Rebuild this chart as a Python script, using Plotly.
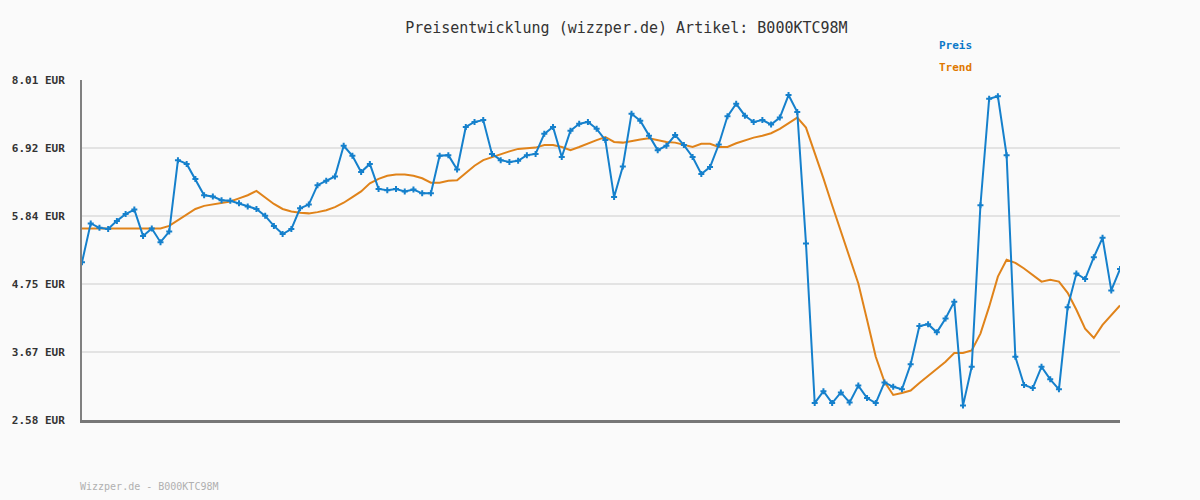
import plotly.graph_objects as go

# price history for article B000KTC98M (EUR), one value per sample
preis = [5.10, 5.72, 5.65, 5.63, 5.76, 5.87, 5.94, 5.52, 5.64, 5.42,
         5.59, 6.73, 6.67, 6.43, 6.17, 6.15, 6.09, 6.08, 6.04, 5.99,
         5.95, 5.84, 5.68, 5.55, 5.63, 5.96, 6.02, 6.33, 6.40, 6.47,
         6.96, 6.80, 6.54, 6.67, 6.27, 6.25, 6.27, 6.23, 6.26, 6.20,
         6.20, 6.80, 6.81, 6.58, 7.26, 7.34, 7.37, 6.83, 6.73, 6.70,
         6.72, 6.81, 6.83, 7.15, 7.26, 6.78, 7.20, 7.31, 7.34, 7.23,
         7.05, 6.14, 6.63, 7.47, 7.36, 7.12, 6.89, 6.96, 7.13, 6.97,
         6.78, 6.51, 6.62, 6.98, 7.43, 7.63, 7.44, 7.34, 7.37, 7.30,
         7.41, 7.77, 7.50, 5.40, 2.85, 3.04, 2.85, 3.02, 2.86, 3.13,
         2.93, 2.85, 3.18, 3.11, 3.07, 3.47, 4.08, 4.11, 3.98, 4.20,
         4.47, 2.81, 3.43, 6.01, 7.71, 7.75, 6.81, 3.59, 3.14, 3.09,
         3.43, 3.23, 3.07, 4.38, 4.92, 4.83, 5.18, 5.49, 4.65, 4.99]

trend = [5.64, 5.64, 5.64, 5.64, 5.64, 5.64, 5.64, 5.64, 5.64, 5.64,
         5.68, 5.77, 5.87, 5.95, 6.00, 6.02, 6.04, 6.07, 6.12, 6.17,
         6.24, 6.14, 6.03, 5.95, 5.91, 5.89, 5.88, 5.90, 5.93, 5.98,
         6.05, 6.14, 6.23, 6.36, 6.43, 6.48, 6.50, 6.50, 6.48, 6.44,
         6.37, 6.37, 6.40, 6.41, 6.52, 6.64, 6.73, 6.78, 6.83, 6.87,
         6.91, 6.92, 6.93, 6.97, 6.97, 6.94, 6.89, 6.94, 7.00, 7.05,
         7.10, 7.02, 7.01, 7.04, 7.06, 7.08, 7.05, 7.02, 7.01, 6.97,
         6.94, 6.99, 6.99, 6.94, 6.94, 7.00, 7.05, 7.09, 7.12, 7.16,
         7.23, 7.32, 7.41, 7.25, 6.86, 6.44, 6.01, 5.59, 5.16, 4.76,
         4.18, 3.59, 3.19, 2.98, 3.01, 3.05, 3.17, 3.28, 3.40, 3.51,
         3.65, 3.65, 3.69, 3.96, 4.39, 4.87, 5.14, 5.09, 5.00, 4.90,
         4.79, 4.82, 4.79, 4.61, 4.34, 4.04, 3.89, 4.10, 4.26, 4.41]

y_ticks = [2.58, 3.67, 4.75, 5.84, 6.92, 8.01]
y_labels = ['2.58 EUR', '3.67 EUR', '4.75 EUR', '5.84 EUR', '6.92 EUR', '8.01 EUR']

x = list(range(len(preis)))
mono = 'DejaVu Sans Mono'
blue = '#1580cc'
orange = '#e0831a'

fig = go.Figure()

fig.add_trace(go.Scatter(
    x=x, y=trend, mode='lines', name='Trend',
    line=dict(color=orange, width=2)
))

fig.add_trace(go.Scatter(
    x=x, y=preis, mode='lines+markers', name='Preis',
    line=dict(color=blue, width=2),
    marker=dict(symbol='cross', size=5, color=blue)
))

fig.update_layout(
    width=1200, height=500,
    margin=dict(l=80, r=80, t=80, b=80),
    paper_bgcolor='#fafafa',
    plot_bgcolor='#fafafa',
    showlegend=False,
    title=dict(text='Preisentwicklung (wizzper.de) Artikel: B000KTC98M',
               x=0.522, xanchor='center', y=0.944, yanchor='middle',
               font=dict(family=mono, size=15, color='#333333')),
    xaxis=dict(range=[0, len(preis) - 1], showgrid=False, zeroline=False,
               showticklabels=False, ticks='',
               showline=True, linecolor='#777777', linewidth=3),
    yaxis=dict(range=[y_ticks[0], y_ticks[-1]], tickvals=y_ticks, ticktext=y_labels,
               showgrid=True, gridcolor='#e3e3e3', gridwidth=2, zeroline=False,
               showline=True, linecolor='#808080', linewidth=2,
               ticks='', ticklabelstandoff=13,
               tickfont=dict(family=mono, size=11, color='#333333', weight='bold')),
)

fig.add_annotation(text='Preis', xref='paper', yref='paper', x=0.824, y=1.1,
                   xanchor='left', yanchor='middle', showarrow=False,
                   font=dict(family=mono, size=11, color='#0a78c8', weight='bold'))
fig.add_annotation(text='Trend', xref='paper', yref='paper', x=0.824, y=1.038,
                   xanchor='left', yanchor='middle', showarrow=False,
                   font=dict(family=mono, size=11, color='#e07800', weight='bold'))
fig.add_annotation(text='Wizzper.de - B000KTC98M', xref='paper', yref='paper',
                   x=-0.004, y=-0.195, xanchor='left', yanchor='middle', showarrow=False,
                   font=dict(family=mono, size=10, color='#b0b0b0'))

fig.write_html("out.html", config={'displayModeBar': False},
               post_script="document.body.style.margin='0';document.body.style.background='#fafafa';")
